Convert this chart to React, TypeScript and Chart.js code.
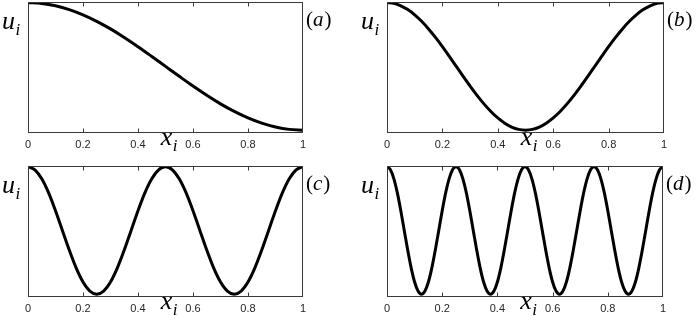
import React, { useEffect, useRef } from "react";
import { Chart, registerables } from "chart.js";

Chart.register(...registerables);

// Sample positions x_i
const xA = [0, 0.05, 0.1, 0.15, 0.2, 0.25, 0.3, 0.35, 0.4, 0.45, 0.5, 0.55, 0.6, 0.65, 0.7, 0.75, 0.8, 0.85, 0.9, 0.95, 1];
const xB = [
  0, 0.025, 0.05, 0.075, 0.1, 0.125, 0.15, 0.175, 0.2, 0.225, 0.25, 0.275, 0.3, 0.325, 0.35, 0.375, 0.4, 0.425, 0.45, 0.475,
  0.5, 0.525, 0.55, 0.575, 0.6, 0.625, 0.65, 0.675, 0.7, 0.725, 0.75, 0.775, 0.8, 0.825, 0.85, 0.875, 0.9, 0.925, 0.95, 0.975, 1,
];
const xC = xB;
const xD = [
  0, 0.0125, 0.025, 0.0375, 0.05, 0.0625, 0.075, 0.0875, 0.1, 0.1125, 0.125, 0.1375, 0.15, 0.1625, 0.175, 0.1875, 0.2, 0.2125, 0.225, 0.2375,
  0.25, 0.2625, 0.275, 0.2875, 0.3, 0.3125, 0.325, 0.3375, 0.35, 0.3625, 0.375, 0.3875, 0.4, 0.4125, 0.425, 0.4375, 0.45, 0.4625, 0.475, 0.4875,
  0.5, 0.5125, 0.525, 0.5375, 0.55, 0.5625, 0.575, 0.5875, 0.6, 0.6125, 0.625, 0.6375, 0.65, 0.6625, 0.675, 0.6875, 0.7, 0.7125, 0.725, 0.7375,
  0.75, 0.7625, 0.775, 0.7875, 0.8, 0.8125, 0.825, 0.8375, 0.85, 0.8625, 0.875, 0.8875, 0.9, 0.9125, 0.925, 0.9375, 0.95, 0.9625, 0.975, 0.9875,
  1,
];

// Values u_i
const uA = [1, 0.988, 0.951, 0.891, 0.809, 0.707, 0.588, 0.454, 0.309, 0.156, 0, -0.156, -0.309, -0.454, -0.588, -0.707, -0.809, -0.891, -0.951, -0.988, -1];
const uB = [
  1, 0.988, 0.951, 0.891, 0.809, 0.707, 0.588, 0.454, 0.309, 0.156, 0, -0.156, -0.309, -0.454, -0.588, -0.707, -0.809, -0.891, -0.951, -0.988,
  -1, -0.988, -0.951, -0.891, -0.809, -0.707, -0.588, -0.454, -0.309, -0.156, 0, 0.156, 0.309, 0.454, 0.588, 0.707, 0.809, 0.891, 0.951, 0.988, 1,
];
const uC = [
  1, 0.951, 0.809, 0.588, 0.309, 0, -0.309, -0.588, -0.809, -0.951, -1, -0.951, -0.809, -0.588, -0.309, 0, 0.309, 0.588, 0.809, 0.951,
  1, 0.951, 0.809, 0.588, 0.309, 0, -0.309, -0.588, -0.809, -0.951, -1, -0.951, -0.809, -0.588, -0.309, 0, 0.309, 0.588, 0.809, 0.951, 1,
];
const uD = [
  1, 0.951, 0.809, 0.588, 0.309, 0, -0.309, -0.588, -0.809, -0.951, -1, -0.951, -0.809, -0.588, -0.309, 0, 0.309, 0.588, 0.809, 0.951,
  1, 0.951, 0.809, 0.588, 0.309, 0, -0.309, -0.588, -0.809, -0.951, -1, -0.951, -0.809, -0.588, -0.309, 0, 0.309, 0.588, 0.809, 0.951,
  1, 0.951, 0.809, 0.588, 0.309, 0, -0.309, -0.588, -0.809, -0.951, -1, -0.951, -0.809, -0.588, -0.309, 0, 0.309, 0.588, 0.809, 0.951,
  1, 0.951, 0.809, 0.588, 0.309, 0, -0.309, -0.588, -0.809, -0.951, -1, -0.951, -0.809, -0.588, -0.309, 0, 0.309, 0.588, 0.809, 0.951,
  1,
];

const tickValues = [0.2, 0.4, 0.6, 0.8];
const panelLabels = ["a", "b", "c", "d"];
const yLabel = ["u", "i"];
const xLabel = ["x", "i"];

type PanelSpec = {
  xs: number[];
  ys: number[];
  label: string;
  left: number;
  top: number;
  pad: { left: number; right: number; top: number };
  axisH: number;
};

const W = 349;
const H = 158;

const panels: PanelSpec[] = [
  { xs: xA, ys: uA, label: panelLabels[0], left: 0, top: 0, pad: { left: 28, right: 46, top: 2 }, axisH: 25 },
  { xs: xB, ys: uB, label: panelLabels[1], left: 349, top: 0, pad: { left: 38, right: 34, top: 2 }, axisH: 25 },
  { xs: xC, ys: uC, label: panelLabels[2], left: 0, top: 158, pad: { left: 28, right: 46, top: 8 }, axisH: 19 },
  { xs: xD, ys: uD, label: panelLabels[3], left: 349, top: 158, pad: { left: 38, right: 35, top: 8 }, axisH: 19 },
];

const SERIF = "'Liberation Serif', 'DejaVu Serif', serif";
const SANS = "'Liberation Sans', Arial, sans-serif";

function drawSub(ctx: CanvasRenderingContext2D, main: string, sub: string, x: number, y: number, size: number) {
  ctx.font = `italic ${size}px ${SERIF}`;
  ctx.fillText(main, x, y);
  const w = ctx.measureText(main).width;
  ctx.font = `italic ${Math.round(size * 0.66)}px ${SERIF}`;
  ctx.fillText(sub, x + w + 0.5, y + size * 0.22);
}

function makeDecor(label: string) {
  return {
    id: "decor" + label,
    afterDraw(chart: any) {
      const { ctx, chartArea: ca } = chart;
      const xs = chart.scales.x;
      ctx.save();
      ctx.strokeStyle = "#3a3a3a";
      ctx.lineWidth = 1;
      const l = Math.round(ca.left) + 0.5;
      const r = Math.round(ca.right) - 0.5;
      const t = Math.round(ca.top) + 0.5;
      const b = Math.round(ca.bottom) - 0.5;
      ctx.strokeRect(l, t, r - l, b - t);
      ctx.beginPath();
      for (const v of tickValues) {
        const px = Math.round(xs.getPixelForValue(v)) + 0.5;
        ctx.moveTo(px, t);
        ctx.lineTo(px, t + 4);
        ctx.moveTo(px, b);
        ctx.lineTo(px, b - 4);
      }
      ctx.stroke();
      ctx.fillStyle = "#000";
      ctx.textBaseline = "alphabetic";
      ctx.textAlign = "left";
      drawSub(ctx, yLabel[0], yLabel[1], ca.left - 26, ca.top + 27, 26);
      drawSub(ctx, xLabel[0], xLabel[1], xs.getPixelForValue(0.483), ca.bottom + 12, 26);
      let x = ca.right + 3;
      const y = ca.top + 24;
      ctx.font = `21px ${SERIF}`;
      ctx.fillText("(", x, y);
      x += ctx.measureText("(").width;
      ctx.font = `italic 21px ${SERIF}`;
      ctx.fillText(label, x, y);
      x += ctx.measureText(label).width + 1;
      ctx.font = `21px ${SERIF}`;
      ctx.fillText(")", x, y);
      ctx.restore();
    },
  };
}

function Panel({ spec }: { spec: PanelSpec }) {
  const ref = useRef<HTMLCanvasElement | null>(null);
  useEffect(() => {
    if (!ref.current) return;
    const data = spec.xs.map((x, i) => ({ x, y: spec.ys[i] }));
    const chart = new Chart(ref.current, {
      type: "line",
      data: {
        datasets: [
          {
            data,
            borderColor: "#000",
            borderWidth: 3,
            pointRadius: 0,
            fill: false,
            cubicInterpolationMode: "monotone",
          },
        ],
      },
      options: {
        animation: false,
        responsive: false,
        devicePixelRatio: 1,
        layout: { padding: { left: spec.pad.left, right: spec.pad.right, top: spec.pad.top, bottom: 0 } },
        plugins: { legend: { display: false }, tooltip: { enabled: false }, title: { display: false } },
        scales: {
          x: {
            type: "linear",
            min: 0,
            max: 1,
            border: { display: false },
            grid: { display: false, drawTicks: false },
            ticks: {
              stepSize: 0.2,
              padding: 5,
              maxRotation: 0,
              color: "#262626",
              font: { family: SANS, size: 11 },
              callback: (v: any) => String(Number(Number(v).toFixed(1))),
            },
            afterFit: (scale: any) => {
              scale.height = spec.axisH;
              scale.paddingLeft = 0;
              scale.paddingRight = 0;
            },
          },
          y: { display: false, min: -1.045, max: 1.01 },
        },
      },
      plugins: [makeDecor(spec.label)],
    } as any);
    let alive = true;
    const fonts: any = (document as any).fonts;
    if (fonts && fonts.load) {
      Promise.all([
        fonts.load(`italic 26px 'Liberation Serif'`),
        fonts.load(`21px 'Liberation Serif'`),
        fonts.load(`11px 'Liberation Sans'`),
      ])
        .then(() => {
          if (alive) chart.update();
        })
        .catch(() => {});
    }
    return () => {
      alive = false;
      chart.destroy();
    };
  }, [spec]);
  return (
    <canvas
      ref={ref}
      width={W}
      height={H}
      style={{ position: "absolute", left: spec.left, top: spec.top, width: W, height: H }}
    />
  );
}

export default function App() {
  return (
    <div style={{ position: "absolute", left: 0, top: 0, width: 698, height: 316, background: "#fff", overflow: "hidden" }}>
      {panels.map((p) => (
        <Panel key={p.label} spec={p} />
      ))}
    </div>
  );
}
